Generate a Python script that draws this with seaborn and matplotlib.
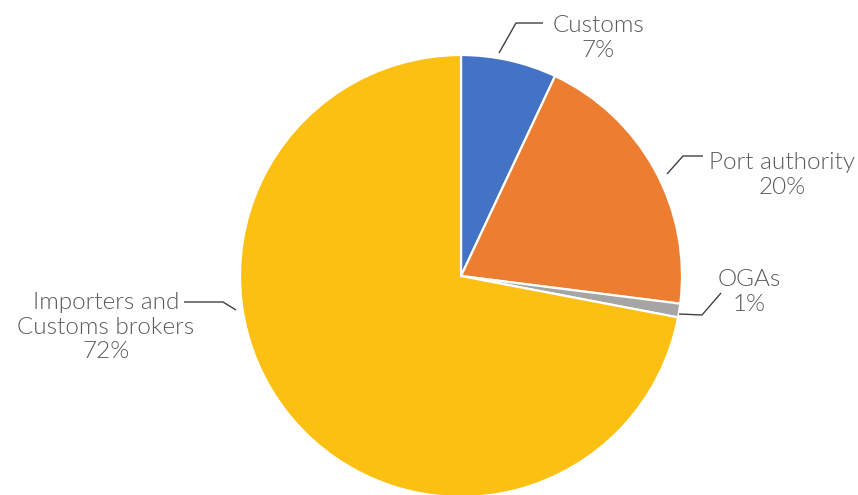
import matplotlib
matplotlib.use("Agg")
import matplotlib.pyplot as plt
import seaborn as sns

# Share of time spent by each agency in the clearance process
categories = ["Customs", "Port authority", "OGAs", "Importers and\nCustoms brokers"]
shares = [7, 20, 1, 72]
colors = ["#4472C4", "#ED7D31", "#A5A5A5", "#FBC012"]

W, H = 858, 495
sns.set_theme(style="white")
plt.rcParams["font.family"] = ["Lato", "DejaVu Sans"]

fig = plt.figure(figsize=(W / 100, H / 100), dpi=100)
ax = fig.add_axes([0, 0, 1, 1])


def px(x, y):
    """Convert top-left based pixel coordinates to data coordinates."""
    return x, H - y


cx, cy = px(461, 276)
ax.pie(
    shares,
    colors=colors,
    startangle=90,
    counterclock=False,
    center=(cx, cy),
    radius=221,
    wedgeprops=dict(edgecolor="white", linewidth=1.6),
)
ax.set_xlim(0, W)
ax.set_ylim(0, H)
ax.set_aspect("equal")
ax.axis("off")

# label block centre and leader-line path for each slice
label_pos = [(598, 38), (782, 175), (749, 292), (106, 327)]
leaders = [
    [(499, 53), (516, 23), (543, 23)],
    [(667, 174), (683, 156), (703, 156)],
    [(679, 314), (702, 315), (721, 293)],
    [(184, 302), (223, 302), (236, 310)],
]

for name, val, (lx, ly), path in zip(categories, shares, label_pos, leaders):
    xs, ys = zip(*[px(x, y) for x, y in path])
    ax.plot(xs, ys, color="#404040", linewidth=1.0, solid_capstyle="butt")
    tx, ty = px(lx, ly)
    ax.text(tx, ty, f"{name}\n{val}%", ha="center", va="center",
            fontsize=17.5, fontweight=300, color="#595959",
            linespacing=1.2, multialignment="center")

fig.savefig("out.png", dpi=100)
